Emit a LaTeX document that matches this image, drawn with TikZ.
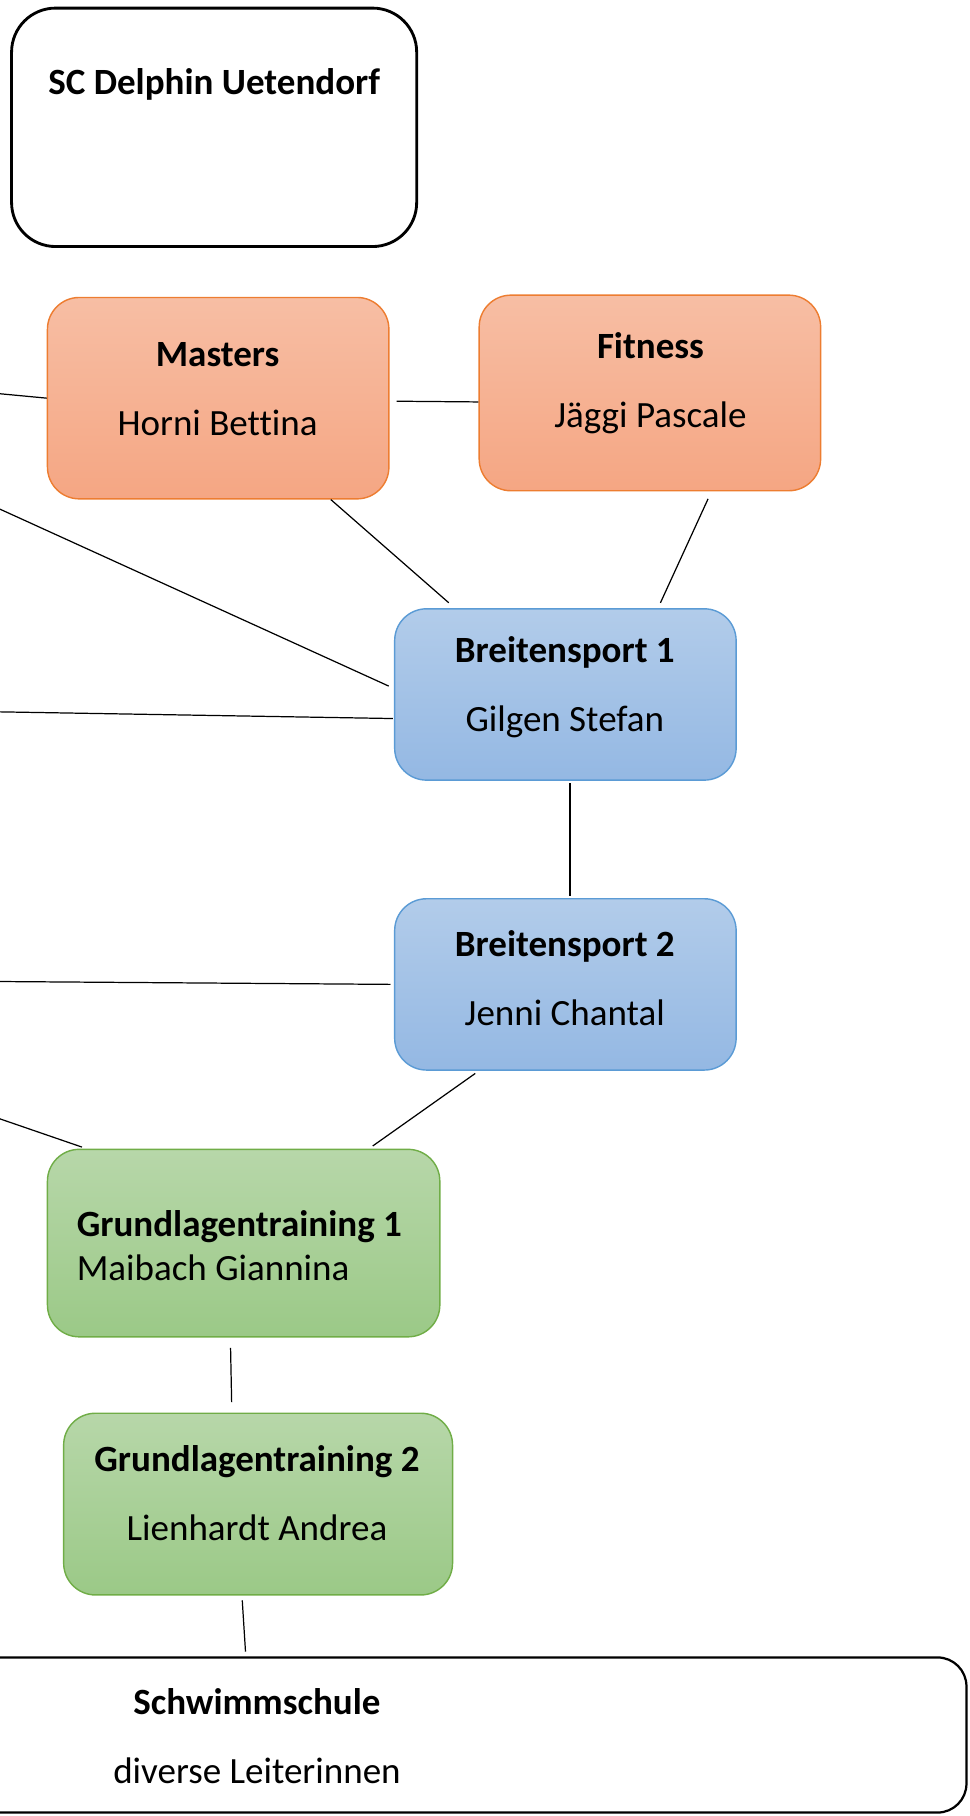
\documentclass[tikz,border=0pt]{standalone}
\usepackage{fontspec}
\setmainfont{Carlito}[Ligatures=CommonOff]

\definecolor{orgline}{RGB}{237,125,49}
\definecolor{orgtop}{RGB}{247,190,164}
\definecolor{orgbot}{RGB}{245,166,131}
\definecolor{blueline}{RGB}{91,155,213}
\definecolor{bluetop}{RGB}{178,204,234}
\definecolor{bluebot}{RGB}{148,184,227}
\definecolor{greenline}{RGB}{112,173,71}
\definecolor{greentop}{RGB}{183,215,169}
\definecolor{greenbot}{RGB}{155,201,135}

\begin{document}
\begin{tikzpicture}[x=0.2mm, y=-0.2mm,
  box/.style={rounded corners=5.5mm, inner sep=0pt, line width=0.7pt},
  orangebox/.style={box, draw=orgline, top color=orgtop, bottom color=orgbot, minimum width=59mm},
  bluebox/.style={box, draw=blueline, top color=bluetop, bottom color=bluebot, minimum width=59mm, minimum height=29.6mm},
  greenbox/.style={box, draw=greenline, top color=greentop, bottom color=greenbot},
  txt/.style={font=\fontsize{18.2}{21.8}\selectfont, align=center, inner sep=0pt},
  conn/.style={draw=black, line width=0.6pt}]
\clip (0,0) rectangle (838,1569);

% top box
\node[draw, line width=1.4pt, rounded corners=7.6mm, minimum width=70mm, minimum height=41.2mm] (club) at (185,110) {};
\node[txt] (clubtxt) at (185,73) {\textbf{SC Delphin Uetendorf}};

% orange row
\node[orangebox, minimum height=34.8mm] (mast) at (188.5,344) {};
\node[txt] (masttxt) at (188,336) {\textbf{Masters}\\[12pt]Horni Bettina};
\node[orangebox, minimum height=33.8mm] (fit) at (561.5,339.5) {};
\node[txt] (fittxt) at (562,331) {\textbf{Fitness}\\[12pt]Jäggi Pascale};

% blue boxes
\node[bluebox] (bs1) at (488.5,600) {};
\node[txt] (bs1txt) at (488,594) {\textbf{Breitensport 1}\\[12pt]Gilgen Stefan};
\node[bluebox] (bs2) at (488.5,850.5) {};
\node[txt] (bs2txt) at (488,845) {\textbf{Breitensport 2}\\[12pt]Jenni Chantal};

% green boxes
\node[greenbox, minimum width=67.8mm, minimum height=32.4mm] (gt1) at (210.5,1074) {};
\node[txt, align=left, anchor=west] (gt1txt) at (66,1076) {\textbf{Grundlagentraining 1}\\Maibach Giannina};
\node[greenbox, minimum width=67.2mm, minimum height=31.4mm] (gt2) at (223,1299.5) {};
\node[txt] (gt2txt) at (222,1290) {\textbf{Grundlagentraining 2}\\[12pt]Lienhardt Andrea};

% bottom box
\node[draw, line width=1.1pt, rounded corners=5mm, minimum width=200mm, minimum height=26.8mm] (swim) at (335,1499) {};
\node[txt] (swimtxt) at (222,1500) {\textbf{Schwimmschule}\\[12pt]diverse Leiterinnen};

% free ends on the left edge
\coordinate (offA) at (-2,340);
\coordinate (offB) at (-2,439);
\coordinate (offC) at (-2,615);
\coordinate (offD) at (-2,848);
\coordinate (offE) at (-2,966);

% lines
\draw[conn] (offA) -- (mast.west);
\draw[conn, shorten <=1.2mm] (mast.-1.2) -- (fit.183.7);
\draw[conn, shorten >=1mm] (offB) -- (bs1.178);
\draw[conn, shorten >=0.2mm] (offC) -- (bs1.188);
\draw[conn, shorten >=1.4mm] (mast.-42.6) -- (bs1.142.2);
\draw[conn, shorten <=1.4mm, shorten >=1mm] (fit.-58.2) -- (bs1.43);
\draw[conn, shorten <=0.4mm, shorten >=0.4mm] (bs1.-87.3) -- (bs2.87.5);
\draw[conn, shorten >=0.6mm] (offD) -- (bs2.west);
\draw[conn, shorten <=0.8mm, shorten >=0.8mm] (bs2.225.8) -- (gt1.37);
\draw[conn, shorten >=0.8mm] (offE) -- (gt1.149.1);
\draw[conn, shorten <=1.8mm, shorten >=1.8mm] (gt1.262.6) -- (gt2.106.3);
\draw[conn, shorten <=0.8mm, shorten >=0.8mm] (gt2.260.6) -- (swim.151.4);
\end{tikzpicture}
\end{document}
